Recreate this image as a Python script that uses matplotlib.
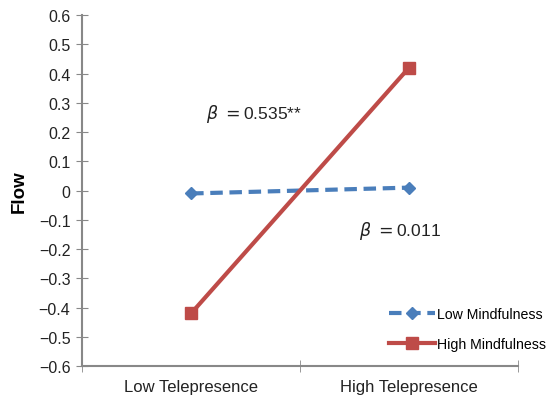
import numpy as np
import matplotlib
matplotlib.use("Agg")
import matplotlib.pyplot as plt

plt.rcParams['font.family'] = ['Liberation Sans', 'DejaVu Sans']

categories = ['Low Telepresence', 'High Telepresence']
low_mind = [-0.01, 0.01]    # Low Mindfulness
high_mind = [-0.42, 0.42]   # High Mindfulness
yticks = np.round(np.arange(-0.6, 0.61, 0.1), 1)

fig = plt.figure(figsize=(5.48, 4.02), dpi=100)
ax = fig.add_axes([0.150, 0.087, 0.795, 0.873])

x = np.arange(len(categories))
ax.plot(x, low_mind, color='#4a7ebb', lw=3, ls=(0, (3, 1.6)), marker='D', ms=6,
        label='Low Mindfulness')
ax.plot(x, high_mind, color='#be4b48', lw=3, marker='s', ms=9,
        label='High Mindfulness')

ax.set_xlim(-0.5, 1.5)
ax.set_ylim(-0.6, 0.6)
ax.set_yticks(yticks)
ax.set_yticklabels(['0' if v == 0 else f'{v:.1f}'.replace('-', '\u2212') for v in yticks])
ax.set_xticks(x)
ax.set_xticklabels(categories, fontsize=12, color='#222222')
ax.set_xticks([-0.5, 0.5, 1.5], minor=True)
ax.tick_params(axis='x', which='major', length=0, pad=9)
ax.tick_params(axis='x', which='minor', direction='inout', length=9, color='#888888')
ax.tick_params(axis='y', direction='inout', length=9, color='#888888',
               labelsize=11.5, labelcolor='#222222', pad=4)
ax.set_ylabel('Flow', fontsize=13.5, fontweight='bold', labelpad=8)

for s in ['top', 'right']:
    ax.spines[s].set_visible(False)
for s in ['left', 'bottom']:
    ax.spines[s].set_color('#888888')
    ax.spines[s].set_linewidth(1.5)

ax.text(0.07, 0.265, r'$\beta$ $=$0.535**', fontsize=12.5, color='#222222', va='center')
ax.text(0.77, -0.135, r'$\beta$ $=$0.011', fontsize=12.5, color='#222222', va='center')

ax.legend(loc='lower right', bbox_to_anchor=(1.085, 0.02), frameon=False,
          fontsize=10.2, handlelength=3.2, handletextpad=0.2, labelspacing=1.1,
          borderaxespad=0.2)

fig.savefig('out.png', dpi=100)
